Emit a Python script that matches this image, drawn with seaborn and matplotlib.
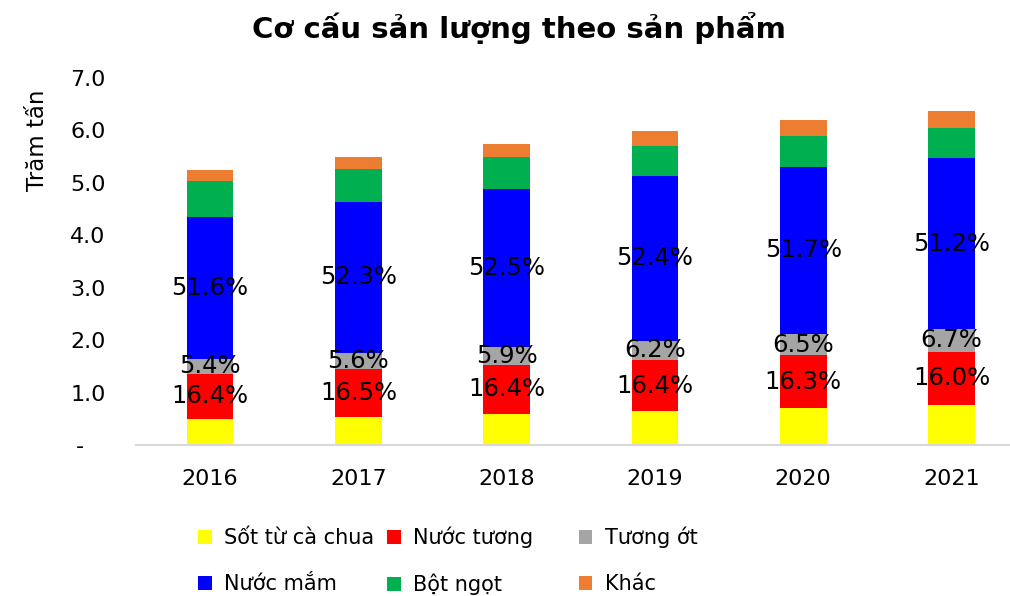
import numpy as np
import pandas as pd
import matplotlib
matplotlib.use('Agg')
import matplotlib.pyplot as plt
from matplotlib.patches import Patch
import seaborn as sns

# Données (trăm tấn)
years = ["2016", "2017", "2018", "2019", "2020", "2021"]
sot_ca_chua = [0.50, 0.54, 0.59, 0.64, 0.70, 0.76]
nuoc_tuong = [0.86, 0.91, 0.94, 0.98, 1.01, 1.02]
tuong_ot = [0.28, 0.31, 0.34, 0.37, 0.40, 0.43]
nuoc_mam = [2.71, 2.87, 3.02, 3.14, 3.20, 3.26]
bot_ngot = [0.69, 0.63, 0.60, 0.58, 0.58, 0.57]
khac = [0.21, 0.24, 0.26, 0.28, 0.30, 0.33]

# étiquettes de pourcentage affichées
pct_nuoc_tuong = ["16.4%", "16.5%", "16.4%", "16.4%", "16.3%", "16.0%"]
pct_tuong_ot = ["5.4%", "5.6%", "5.9%", "6.2%", "6.5%", "6.7%"]
pct_nuoc_mam = ["51.6%", "52.3%", "52.5%", "52.4%", "51.7%", "51.2%"]

series = ["Sốt từ cà chua", "Nước tương", "Tương ớt", "Nước mắm", "Bột ngọt", "Khác"]
values = [sot_ca_chua, nuoc_tuong, tuong_ot, nuoc_mam, bot_ngot, khac]
colors = ["#FFFF00", "#FF0000", "#A5A5A5", "#0000FF", "#00B050", "#ED7D31"]

sns.set_theme(style="white")
plt.rcParams['font.family'] = ['DejaVu Sans']
plt.rcParams['text.color'] = 'black'
plt.rcParams['xtick.color'] = 'black'
plt.rcParams['ytick.color'] = 'black'
plt.rcParams['axes.labelcolor'] = 'black'

df = pd.DataFrame(dict(zip(series, values)), index=years)
cum = df.cumsum(axis=1)
bottoms = cum - df

fig = plt.figure(figsize=(10.1, 5.96), dpi=100)
ax = fig.add_axes([136 / 1010, 151 / 596, 874 / 1010, 367 / 596])

# barres empilées : on dessine les cumuls du plus haut au plus bas
for name, col in reversed(list(zip(series, colors))):
    sns.barplot(x=years, y=cum[name].values, color=col, width=0.315,
                errorbar=None, saturation=1, ax=ax, linewidth=0)

# pourcentages au centre des segments
for name, labels in [("Nước tương", pct_nuoc_tuong), ("Tương ớt", pct_tuong_ot),
                     ("Nước mắm", pct_nuoc_mam)]:
    mids = bottoms[name] + df[name] / 2
    for i, lab in enumerate(labels):
        ax.text(i, mids.iloc[i], lab, ha="center", va="center", fontsize=17.5, color="black")

ax.set_xlim(-0.5, (1010 - 210) / 148.3)
ax.set_ylim(0, 7)
ax.set_yticks(np.arange(0, 8, 1))
ax.set_yticklabels(["-   "] + [f"{v:.1f}" for v in np.arange(1, 8, 1)])
ax.tick_params(axis="y", length=0, pad=22, labelsize=16)
ax.tick_params(axis="x", length=0, pad=17, labelsize=16)
for s in ["top", "right", "left"]:
    ax.spines[s].set_visible(False)
ax.spines["bottom"].set_color("#D9D9D9")
ax.spines["bottom"].set_linewidth(1.5)
ax.set_xlabel("")
ax.set_ylabel("Trăm tấn", fontsize=16.5)
ax.yaxis.set_label_coords(-0.10, 0.83)

fig.suptitle("Cơ cấu sản lượng theo sản phẩm", x=0.514, y=0.953, va="center",
             fontsize=21, fontweight="bold", color="black")

# légende : ordre colonne par colonne
order = [0, 3, 1, 4, 2, 5]
handles = [Patch(facecolor=colors[k], edgecolor="none") for k in order]
labels = [series[k] for k in order]
labels[2] = labels[2] + "     "  # colonnes de largeur égale comme dans Excel
fig.legend(handles, labels, ncol=3, loc="upper left", bbox_to_anchor=(188 / 1010, 1 - 516 / 596),
           frameon=False, fontsize=15, handlelength=0.65, handleheight=0.65,
           handletextpad=0.6, columnspacing=0.6, labelspacing=1.25, borderpad=0)

fig.savefig("out.png", dpi=100)
plt.close()
